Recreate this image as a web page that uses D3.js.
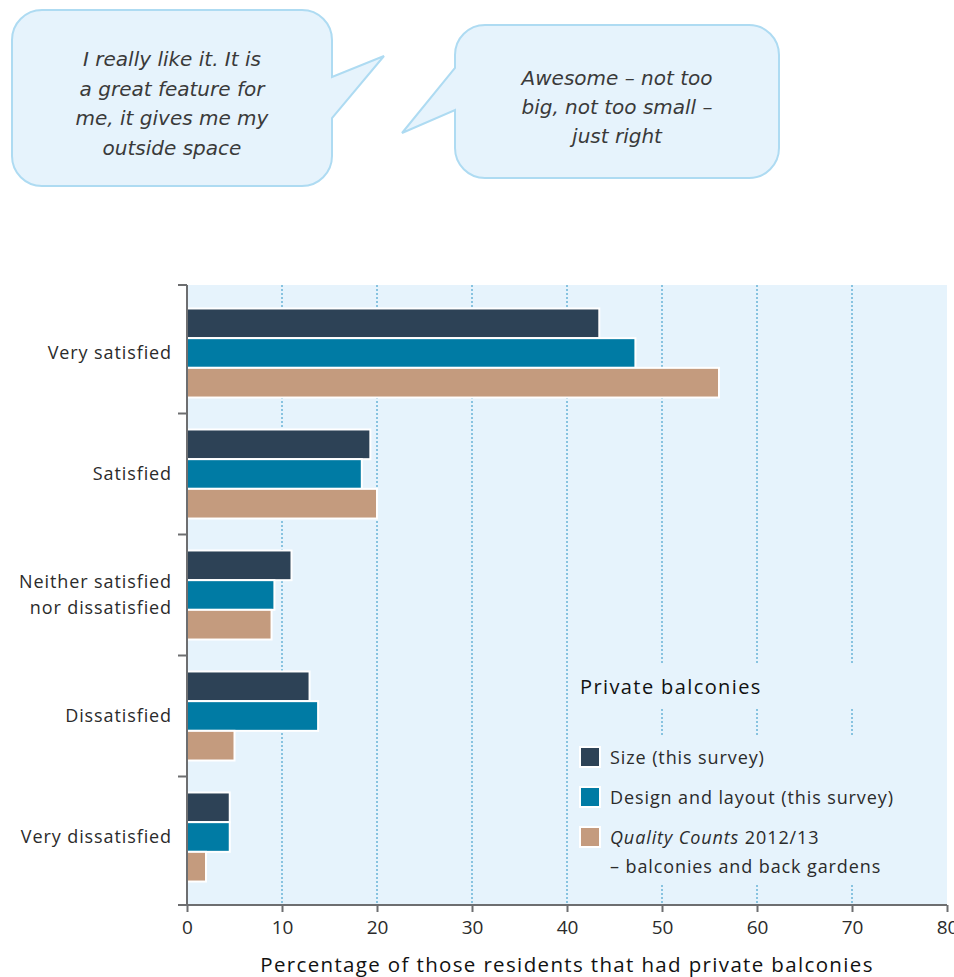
<!DOCTYPE html>
<html>
<head>
<meta charset="utf-8">
<script src="https://cdn.jsdelivr.net/npm/d3@7"></script>
<style>
  html, body { margin: 0; padding: 0; background: #fff; }
  svg { display: block; font-family: "Open Sans", Lato, sans-serif; }
</style>
</head>
<body>
<svg id="chart" width="954" height="977"></svg>
<script>
// Satisfaction categories (top to bottom)
const categories = ["Very satisfied", "Satisfied", "Neither satisfied|nor dissatisfied", "Dissatisfied", "Very dissatisfied"];
// Series names and values (% of residents with private balconies)
const seriesNames = ["Size (this survey)", "Design and layout (this survey)", "Quality Counts 2012/13"];
const sizeValues = [43.4, 19.3, 11.0, 12.9, 4.5];
const designValues = [47.2, 18.4, 9.2, 13.8, 4.5];
const qualityCountsValues = [56, 20, 8.9, 5, 2];
const xTicks = [0, 10, 20, 30, 40, 50, 60, 70, 80];

const colors = ["#2d4256", "#007ba4", "#c49b7e"];
const series = [sizeValues, designValues, qualityCountsValues];

const svg = d3.select("#chart");
const plot = { left: 187, right: 947, top: 285, bottom: 905 };
const bg = "#e6f3fc";
const textColor = "#2b2b2b";

// ---- Speech bubbles ----
function bubble(x, y, w, h, r, tail, lines, cx, firstY, lh) {
  const g = svg.append("g");
  const path = d3.path();
  // rounded rectangle with a tail on one side
  path.moveTo(x + r, y);
  path.lineTo(x + w - r, y);
  path.arcTo(x + w, y, x + w, y + r, r);
  if (tail.side === "right") {
    path.lineTo(x + w, tail.a);
    path.lineTo(tail.tx, tail.ty);
    path.lineTo(x + w, tail.b);
  }
  path.lineTo(x + w, y + h - r);
  path.arcTo(x + w, y + h, x + w - r, y + h, r);
  path.lineTo(x + r, y + h);
  path.arcTo(x, y + h, x, y + h - r, r);
  if (tail.side === "left") {
    path.lineTo(x, tail.b);
    path.lineTo(tail.tx, tail.ty);
    path.lineTo(x, tail.a);
  }
  path.lineTo(x, y + r);
  path.arcTo(x, y, x + r, y, r);
  path.closePath();
  g.append("path").attr("d", path.toString())
    .attr("fill", bg).attr("stroke", "#aedbf2").attr("stroke-width", 2);
  g.selectAll("text").data(lines).join("text")
    .attr("x", cx).attr("y", (d, i) => firstY + i * lh)
    .attr("text-anchor", "middle")
    .attr("font-family", "\"DejaVu Sans\", sans-serif")
    .attr("font-style", "oblique").attr("font-size", 20)
    .attr("fill", "#3a3a3a").text(d => d);
}
bubble(12, 10, 320, 176, 30, { side: "right", a: 77, b: 118, tx: 384, ty: 56 },
  ["I really like it. It is", "a great feature for", "me, it gives me my", "outside space"], 172, 66, 29.5);
bubble(455, 25, 324, 153, 30, { side: "left", a: 68, b: 110, tx: 402, ty: 133 },
  ["Awesome – not too", "big, not too small –", "just right"], 617, 85, 29);

// ---- Scales ----
const x = d3.scaleLinear().domain([0, 80]).range([plot.left, plot.right]);
const y = d3.scaleBand().domain(categories).range([plot.top, plot.bottom])
  .paddingInner(0.264).paddingOuter(0.194);
const sub = d3.scaleBand().domain(d3.range(series.length)).range([0, y.bandwidth()]);

// plot background
svg.append("rect").attr("x", plot.left).attr("y", plot.top)
  .attr("width", plot.right - plot.left).attr("height", plot.bottom - plot.top)
  .attr("fill", bg);

// dotted vertical gridlines
svg.append("g").selectAll("line").data(xTicks.filter(t => t > 0 && t < 80)).join("line")
  .attr("x1", d => x(d)).attr("x2", d => x(d))
  .attr("y1", plot.top).attr("y2", plot.bottom)
  .attr("stroke", "#2a93c4").attr("stroke-width", 1).attr("stroke-dasharray", "2,2");

// legend backgrounds (gridlines are hidden behind the legend text)
svg.append("rect").attr("x", 572).attr("y", 665).attr("width", 370).attr("height", 44).attr("fill", bg);
svg.append("rect").attr("x", 572).attr("y", 737).attr("width", 370).attr("height", 147).attr("fill", bg);

// bars
const rows = categories.map((c, i) => ({ c, vals: series.map(s => s[i]) }));
const groups = svg.append("g").selectAll("g").data(rows).join("g")
  .attr("transform", d => `translate(0,${y(d.c)})`);
groups.selectAll("rect").data(d => d.vals.map((v, k) => ({ v, k }))).join("rect")
  .attr("x", x(0)).attr("y", d => sub(d.k))
  .attr("width", d => x(d.v) - x(0)).attr("height", sub.bandwidth())
  .attr("fill", d => colors[d.k]).attr("stroke", "#fff").attr("stroke-width", 2);

// ---- Axes ----
const axisColor = "#6d6e70";
// y axis line + boundary ticks between categories
const step = y.step();
const boundaries = [plot.top].concat(categories.slice(1).map(c => y(c) - step * y.paddingInner() / 2)).concat([plot.bottom]);
svg.append("line").attr("x1", plot.left).attr("x2", plot.left)
  .attr("y1", plot.top).attr("y2", plot.bottom + 1)
  .attr("stroke", axisColor).attr("stroke-width", 2);
svg.append("g").selectAll("line").data(boundaries).join("line")
  .attr("x1", plot.left - 9).attr("x2", plot.left)
  .attr("y1", d => d).attr("y2", d => d)
  .attr("stroke", axisColor).attr("stroke-width", 2);

// category labels
const lbl = svg.append("g").selectAll("text").data(categories).join("text")
  .attr("text-anchor", "end").attr("font-size", 18).attr("letter-spacing", 0.9)
  .attr("fill", textColor);
lbl.each(function (d) {
  const parts = d.split("|");
  const cy = y(d) + y.bandwidth() / 2;
  const t = d3.select(this);
  parts.forEach((p, i) => {
    t.append("tspan").attr("x", 172)
      .attr("y", cy + (i - (parts.length - 1) / 2) * 26 + 6).text(p);
  });
});

// x axis
const xAxis = svg.append("g").attr("transform", `translate(0,${plot.bottom})`)
  .call(d3.axisBottom(x).tickValues(xTicks).tickSize(7).tickPadding(9));
xAxis.select(".domain").attr("stroke", axisColor).attr("stroke-width", 2)
  .attr("d", `M${plot.left - 9},0H${plot.right}`);
xAxis.selectAll(".tick line").attr("stroke", axisColor).attr("stroke-width", 2);
xAxis.selectAll(".tick text").attr("font-size", 19).attr("fill", textColor)
  .attr("font-family", "\"Open Sans\", sans-serif");

svg.append("text").attr("x", x(40) - 0).attr("y", 972)
  .attr("text-anchor", "middle").attr("font-size", 20.5).attr("letter-spacing", 1.35)
  .attr("fill", "#111")
  .text("Percentage of those residents that had private balconies");

// ---- Legend ----
const leg = svg.append("g");
leg.append("text").attr("x", 580).attr("y", 694).attr("font-size", 20).attr("letter-spacing", 1.4)
  .attr("fill", "#111").text("Private balconies");
const legY = [747, 787, 827];
leg.selectAll("rect").data(colors).join("rect")
  .attr("x", 580).attr("y", (d, i) => legY[i]).attr("width", 20).attr("height", 20)
  .attr("fill", d => d).attr("stroke", "#fff").attr("stroke-width", 2);
const legText = (yy) => leg.append("text").attr("x", 610).attr("y", yy)
  .attr("font-size", 18).attr("letter-spacing", 0.9).attr("fill", textColor);
legText(legY[0] + 17).text(seriesNames[0]);
legText(legY[1] + 17).text(seriesNames[1]);
const t3 = legText(legY[2] + 17);
t3.append("tspan").attr("font-style", "italic").text("Quality Counts");
t3.append("tspan").text(" 2012/13");
legText(legY[2] + 46).text("– balconies and back gardens");
</script>
</body>
</html>
